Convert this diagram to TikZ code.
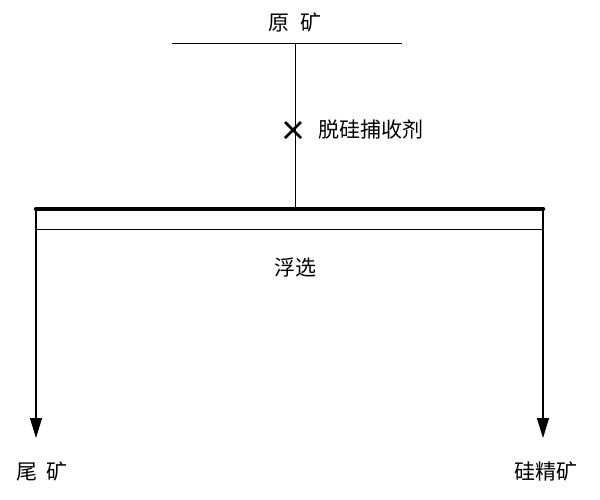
\documentclass[tikz,border=0pt]{standalone}
\usepackage{fontspec}
\setmainfont{Noto Sans CJK SC}
\usetikzlibrary{arrows.meta,calc}
\begin{document}
\begin{tikzpicture}[x=1pt,y=-1pt,
  lbl/.style={font=\fontsize{21}{22}\selectfont, inner sep=0pt},
  thin/.style={line width=0.8pt},
  arr/.style={line width=1.2pt,-{Triangle[length=20pt,width=12pt]}}]
\useasboundingbox (0,0) rectangle (600,499);
\node[lbl] (ore) at (295,22) {原\hspace{0.5em}矿};
\coordinate (fl) at (172,43); \coordinate (fr) at (402,43);
\draw[thin] (fl) -- (fr);
\coordinate (top) at (295,43); \coordinate (bar) at (295,208);
\draw[thin] (top) -- (bar);
\node[inner sep=0pt,minimum size=0pt] (x) at (293,130) {};
\draw[line width=2.6pt] ($(x)+(-8,-8)$) -- ($(x)+(8,8)$) ($(x)+(-8,8)$) -- ($(x)+(8,-8)$);
\node[lbl,anchor=west] (reag) at (318,130) {脱硅捕收剂};
\coordinate (bl) at (36,209); \coordinate (br) at (543,209);
\draw[line width=4.5pt,line cap=round] (bl) -- (br);
\coordinate (tl) at (36,229); \coordinate (tr) at (543,229);
\draw[thin] (tl) -- (tr);
\node[lbl] (flot) at (295,268) {浮选};
\coordinate (al) at (36,438); \coordinate (ar) at (543,438);
\draw[arr] (bl) -- (al);
\draw[arr] (br) -- (ar);
\node[lbl] (tail) at (42,471) {尾\hspace{0.4em}矿};
\node[lbl] (conc) at (546,471) {硅精矿};
\end{tikzpicture}
\end{document}
